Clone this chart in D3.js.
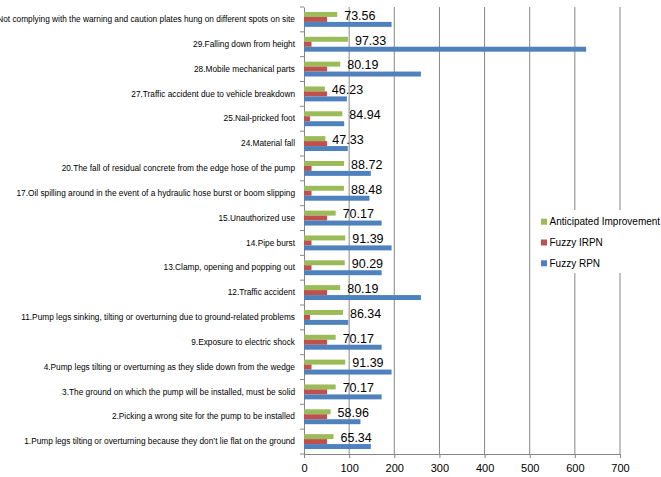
<!DOCTYPE html>
<html lang="en">

<head>
    <meta charset="UTF-8">
    <title>Fuzzy RPN</title>
    <script src="https://cdn.jsdelivr.net/npm/d3@7"></script>
    <style>
        body {
            margin: 0;
            background: #fff;
        }

        svg text {
            font-family: "Liberation Sans", Arial, sans-serif;
            fill: #000;
        }

        .cat-label {
            font-size: 8.3px;
        }

        .value-label {
            font-size: 12.5px;
        }

        .legend text {
            font-size: 10px;
        }
    </style>
</head>

<body>
    <svg width="661" height="477"></svg>

    <script>
        // categories, bottom to top as in the chart
        const categories = [
            "1.Pump legs tilting or overturning because they don\u2019t lie flat on the ground",
            "2.Picking a wrong site for the pump to be installed",
            "3.The ground on which the pump will be installed, must be solid",
            "4.Pump legs tilting or overturning as they slide down from the wedge",
            "9.Exposure to electric shock",
            "11.Pump legs sinking, tilting or overturning due to ground-related problems",
            "12.Traffic accident",
            "13.Clamp, opening and popping out",
            "14.Pipe burst",
            "15.Unauthorized use",
            "17.Oil spilling around in the event of a  hydraulic hose burst or boom slipping",
            "20.The fall of residual concrete from the edge hose of the pump",
            "24.Material fall",
            "25.Nail-pricked foot",
            "27.Traffic accident due to vehicle breakdown",
            "28.Mobile mechanical parts",
            "29.Falling down from height",
            "30.Not complying with the warning and caution plates hung on different spots on site"
        ];

        const fuzzyRPN = [148, 125, 172, 194, 172, 98, 259, 172, 194, 172, 145, 148, 97, 89, 95, 259, 625, 194];
        const fuzzyIRPN = [51.2, 51.2, 51.2, 16.7, 51.2, 13.4, 51.2, 16.7, 16.7, 51.2, 16.7, 16.7, 51.2, 13.4, 51.2, 51.2, 16.7, 51.2];
        const improvement = [65.34, 58.96, 70.17, 91.39, 70.17, 86.34, 80.19, 90.29, 91.39, 70.17, 88.48, 88.72, 47.33, 84.94, 46.23, 80.19, 97.33, 73.56];

        const seriesNames = ["Anticipated Improvement", "Fuzzy IRPN", "Fuzzy RPN"];
        const colors = ["#9BBB59", "#C0504D", "#4F81BD"];
        const xTicks = [0, 100, 200, 300, 400, 500, 600, 700];

        const width = 661;
        const height = 477;
        const margin = { top: 7, right: 41, bottom: 23, left: 304 };

        const svg = d3.select("svg");

        const data = categories.map((c, i) => ({
            name: c,
            values: [improvement[i], fuzzyIRPN[i], fuzzyRPN[i]]
        }));

        // x scale
        const x = d3.scaleLinear()
            .domain([0, 700])
            .range([margin.left, width - margin.right]);

        // y: top category first
        const y = d3.scaleBand()
            .domain(categories.slice().reverse())
            .range([margin.top, height - margin.bottom])
            .paddingInner(0.4)
            .paddingOuter(0.2);

        const ySub = d3.scaleBand()
            .domain(seriesNames)
            .range([0, y.bandwidth()])
            .padding(0);

        // gridlines + bottom axis
        const xAxis = svg.append("g")
            .attr("transform", `translate(0,${height - margin.bottom})`)
            .call(d3.axisBottom(x).tickValues(xTicks).tickSize(4).tickPadding(6).tickSizeOuter(0));
        xAxis.select(".domain").attr("stroke", "#868686");
        xAxis.selectAll(".tick line").attr("stroke", "#868686");
        xAxis.selectAll(".tick text")
            .style("font-size", "11px");

        svg.append("g")
            .selectAll("line")
            .data(xTicks.slice(1))
            .join("line")
            .attr("x1", d => x(d))
            .attr("x2", d => x(d))
            .attr("y1", margin.top)
            .attr("y2", height - margin.bottom)
            .attr("stroke", "#868686")
            .attr("stroke-width", 1);

        // y axis line + ticks between categories
        const yAxis = svg.append("g")
            .attr("transform", `translate(${margin.left},0)`)
            .call(d3.axisLeft(y).tickSize(0).tickPadding(9));
        yAxis.select(".domain").attr("stroke", "#868686");
        yAxis.selectAll(".tick text").attr("class", "cat-label");

        const boundaries = d3.range(categories.length + 1).map(i => margin.top + i * y.step());
        svg.append("g")
            .selectAll("line")
            .data(boundaries)
            .join("line")
            .attr("x1", margin.left - 4)
            .attr("x2", margin.left)
            .attr("y1", d => d)
            .attr("y2", d => d)
            .attr("stroke", "#868686");

        // bars
        const groups = svg.append("g")
            .selectAll("g")
            .data(data)
            .join("g")
            .attr("transform", d => `translate(0,${y(d.name)})`);

        groups.selectAll("rect")
            .data(d => d.values.map((v, j) => ({ key: seriesNames[j], value: v, color: colors[j] })))
            .join("rect")
            .attr("x", x(0))
            .attr("y", d => ySub(d.key))
            .attr("width", d => x(d.value) - x(0))
            .attr("height", ySub.bandwidth())
            .attr("fill", d => d.color);

        // value labels of the anticipated improvement
        groups.append("text")
            .attr("class", "value-label")
            .attr("x", d => x(d.values[0]) + 7)
            .attr("y", ySub(seriesNames[0]) + ySub.bandwidth() / 2 + 1)
            .attr("dy", "0.35em")
            .text(d => d3.format(".2f")(d.values[0]));

        // legend
        const legend = svg.append("g").attr("class", "legend");
        legend.append("rect")
            .attr("x", 535)
            .attr("y", 210)
            .attr("width", 130)
            .attr("height", 63)
            .attr("fill", "#fff");

        const items = legend.selectAll("g")
            .data(seriesNames)
            .join("g")
            .attr("transform", (d, i) => `translate(541,${221.7 + i * 20.8})`);
        items.append("rect")
            .attr("x", 0)
            .attr("y", -3)
            .attr("width", 6)
            .attr("height", 6)
            .attr("fill", (d, i) => colors[i]);
        items.append("text")
            .attr("x", 8.5)
            .attr("dy", "0.35em")
            .text(d => d);
    </script>
</body>

</html>
